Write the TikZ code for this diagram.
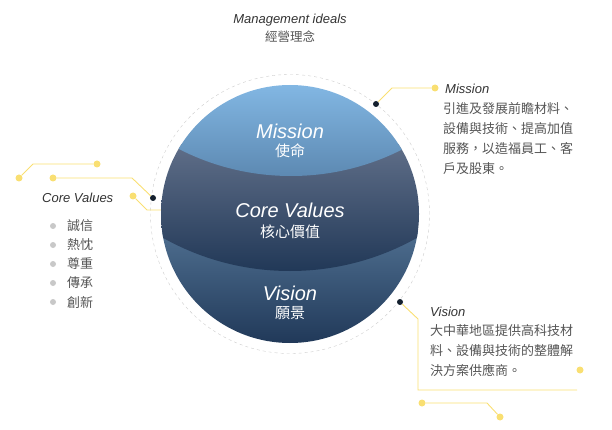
\documentclass[tikz,border=0pt]{standalone}
\usepackage{fontspec}
\setmainfont{Liberation Sans}
\newfontfamily\cjk{Noto Sans CJK TC}
\definecolor{ideayellow}{HTML}{F9DF72}
\definecolor{dotnavy}{HTML}{14202E}
\definecolor{textgray}{HTML}{555555}
\definecolor{bulletgray}{HTML}{C8C8C8}
\definecolor{missiontop}{HTML}{82B7E3}
\definecolor{missionbot}{HTML}{5C88B1}
\definecolor{coretop}{HTML}{5F6E88}
\definecolor{corebot}{HTML}{213857}
\definecolor{visiontop}{HTML}{4E6E8F}
\definecolor{visionbot}{HTML}{203858}
\tikzset{
  ylink/.style={draw=ideayellow, line width=0.9pt},
  ydot/.style={circle, fill=ideayellow, inner sep=0pt, minimum size=7pt},
  kdot/.style={circle, fill=dotnavy, inner sep=0pt, minimum size=6pt},
  gdot/.style={circle, fill=bulletgray, inner sep=0pt, minimum size=6pt},
  bandtitle/.style={text=white, font=\itshape\fontsize{20}{22}\selectfont, inner sep=0pt},
  bandcn/.style={text=white, font=\cjk\fontsize{15}{17}\selectfont, inner sep=0pt},
  sidetitle/.style={text=black!80, font=\itshape\fontsize{13}{15}\selectfont, inner sep=0pt, anchor=base west},
  sidebody/.style={text=textgray, font=\cjk\fontsize{13}{20}\selectfont, inner sep=0pt, anchor=north west, align=left}
}
\begin{document}
\begin{tikzpicture}[x=1pt,y=-1pt]
  \useasboundingbox (0,0) rectangle (612,430);
  \coordinate (ctr) at (290,214);
  % Header
  \node[text=black!80, font=\itshape\fontsize{13}{15}\selectfont] (title) at (290,20) {Management ideals};
  \node[text=textgray, font=\cjk\fontsize{12.5}{15}\selectfont] (titlecn) at (290,37) {經營理念};
  % Dashed ring
  \draw[black!20, dash pattern=on 3pt off 3pt] (ctr) circle (139.5pt);
  % Loose yellow strokes on the left
  \node[ydot] (decoa) at (97,164) {};
  \node[ydot] (decob) at (19,178) {};
  \draw[ylink] (decoa) -- ++(-64,0) -- (decob);
  \node[ydot] (decoc) at (133,196) {};
  \coordinate (decod) at (175,210);
  \draw[ylink] (decoc) -- ++(14,14) -- (decod);
  % Disc, three bands
  \begin{scope}
    \clip (ctr) circle (129pt);
    \shade[top color=visiontop, bottom color=visionbot] (150,232) rectangle (430,345);
    \begin{scope}
      \clip (290,11.6) circle (259.4pt);
      \shade[top color=coretop, bottom color=corebot] (150,145) rectangle (430,272);
      \begin{scope}
        \clip (291,-70) circle (246pt);
        \shade[top color=missiontop, bottom color=missionbot] (150,85) rectangle (430,178);
      \end{scope}
    \end{scope}
  \end{scope}
  % Band labels
  \node[bandtitle] (mission) at (290,131) {Mission};
  \node[bandcn] (missioncn) at (290,151) {使命};
  \node[bandtitle] (core) at (290,210) {Core Values};
  \node[bandcn] (corecn) at (290,232) {核心價值};
  \node[bandtitle] (vision) at (290,293) {Vision};
  \node[bandcn] (visioncn) at (290,313) {願景};
  % Mission call-out
  \node[kdot] (mdot) at (376,104) {};
  \node[ydot] (mend) at (435,88) {};
  \draw[ylink] (mdot) -- ++(16,-16) -- (mend);
  \node[sidetitle] (mtitle) at (445,94) {Mission};
  \node[sidebody] (mtext) at (443,102)
    {引進及發展前瞻材料、\\設備與技術、提高加值\\服務，以造福員工、客\\戶及股東。};
  % Core Values call-out
  \node[kdot] (cdot) at (153,198) {};
  \node[ydot] (cend) at (53,178) {};
  \draw[ylink] (cdot) -- ++(-21,-20) -- (cend);
  \node[sidetitle] (ctitle) at (42,203) {Core Values};
  \foreach \val [count=\i] in {誠信,熱忱,尊重,傳承,創新} {
    \node[gdot] (bul\i) at (53,207+19*\i) {};
    \node[text=textgray, font=\cjk\fontsize{13}{15}\selectfont, anchor=west, inner sep=0pt]
      (val\i) at (67,207+19*\i) {\val};
  }
  % Vision call-out
  \node[kdot] (vdot) at (400,302) {};
  \coordinate (vend) at (577,390);
  \draw[ylink] (vdot) -- ++(18,17) -- ++(0,71) -- (vend);
  \node[ydot] (vspare) at (580,370) {};
  \node[sidetitle] (vtitle) at (430,316) {Vision};
  \node[sidebody] (vtext) at (430,324)
    {大中華地區提供高科技材\\料、設備與技術的整體解\\決方案供應商。};
  % Bottom stroke
  \node[ydot] (decoe) at (422,403) {};
  \node[ydot] (decof) at (500,417) {};
  \draw[ylink] (decoe) -- ++(65,0) -- (decof);
\end{tikzpicture}
\end{document}
